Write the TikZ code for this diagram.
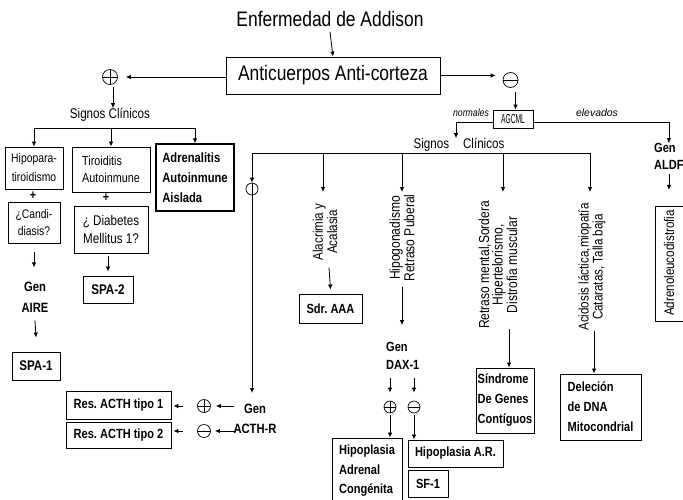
\documentclass[tikz,border=0pt]{standalone}
\usepackage{fontspec}
\setmainfont[FakeStretch=0.83]{Liberation Sans}
\usepackage{graphicx}
\usetikzlibrary{arrows.meta,calc}
\newcommand\fsz[2]{\fontsize{#1}{#2}\selectfont}
\frenchspacing
\begin{document}
\begin{tikzpicture}[x=1pt,y=-1pt,
  ln/.style={line width=0.8pt},
  arr/.style={line width=0.8pt,-{Latex[length=5pt,width=4.5pt]}},
  bx/.style={draw,line width=0.9pt,inner sep=0pt,align=center},
  lbx/.style={draw,line width=0.9pt,inner sep=0pt,align=left},
  txt/.style={inner sep=0pt,align=center},
  sym/.style={circle,draw,line width=0.7pt,minimum size=13pt,inner sep=0pt},
  plus/.style={sym,path picture={\draw[line width=0.7pt] (path picture bounding box.north)--(path picture bounding box.south) (path picture bounding box.west)--(path picture bounding box.east);}},
  minus/.style={sym,path picture={\draw[line width=0.7pt] (path picture bounding box.west)--(path picture bounding box.east);}},
  vminus/.style={sym,path picture={\draw[line width=0.7pt] (path picture bounding box.north)--(path picture bounding box.south);}},
  rot/.style={txt,rotate=90,font=\fsz{14}{12}},
]
\useasboundingbox (0,0) rectangle (683,499);
\clip (0,0) rectangle (683,499);
% ---------- top
\node[txt,font=\fsz{21}{24}] (title) at (330,19) {Enfermedad de Addison};
\node[bx,minimum width=214pt,minimum height=37pt,font=\fsz{21}{24}] (anti) at (333,75.5) {Anticuerpos Anti-corteza};
\node[plus,minimum size=15pt] (pA) at (110,77) {};
\node[minus,minimum size=15pt] (mA) at (510.5,80) {};
\draw[arr] ([yshift=-5pt]title.south) -- (anti.north);
\draw[arr] (anti.west |- pA) -- ($(pA.east)+(8,0)$);
\draw[arr] (anti.east) -- ($(anti.east -| mA.west)+(-7,0)$);
% ---------- left branch
\node[txt,font=\fsz{14}{16}] (sigL) at (110,115) {Signos Clínicos};
\draw[arr] ($(pA.south)+(3,2)$) -- ($(sigL.north)+(3,0)$);
\node[bx,minimum width=58pt,minimum height=42pt,font=\fsz{12.5}{19}] (hipo) at (34,168) {Hipopara-\\tiroidismo};
\node[txt,font=\bfseries\fsz{13}{14}] (plus1) at (33,196) {+};
\node[bx,minimum width=52pt,minimum height=41pt,font=\fsz{12.5}{17}] (candi) at (34,222.5) {¿Candi-\\diasis?};
\node[txt,font=\bfseries\fsz{13.5}{21}] (gaire) at (35,297) {Gen\\AIRE};
\node[bx,minimum width=48pt,minimum height=28pt,font=\bfseries\fsz{14}{16}] (spa1) at (36,366) {SPA-1};
\node[lbx,minimum width=78pt,minimum height=45pt,font=\fsz{13}{17.5}] (tiro) at (111,169.5) {Tiroiditis\\Autoinmune};
\node[txt,font=\bfseries\fsz{13}{14}] (plus2) at (106,198) {+};
\node[bx,minimum width=74pt,minimum height=47pt,font=\fsz{14}{18}] (diab) at (111,229.5) {¿ Diabetes\\Mellitus 1?};
\node[bx,minimum width=50pt,minimum height=27pt,font=\bfseries\fsz{14}{16}] (spa2) at (108,289.5) {SPA-2};
\node[lbx,line width=1.4pt,minimum width=78pt,minimum height=67pt,font=\bfseries\fsz{13.5}{20}] (adren) at (195,177.5) {Adrenalitis\\Autoinmune\\Aislada};
\coordinate (lrow) at (0,128);
\draw[ln] (hipo.north |- lrow) -- (adren.north |- lrow);
\draw[arr] (hipo.north |- lrow) -- (hipo.north);
\draw[arr] (tiro.north |- lrow) -- (tiro.north);
\draw[arr] (adren.north |- lrow) -- (adren.north);
\draw[arr] ($(candi.south)+(0,9)$) -- ($(candi.south)+(0,24)$);
\draw[arr] ($(gaire.south)+(0,8)$) -- ($(spa1.north)+(0,-14)$);
\draw[arr] ($(spa2.north |- diab.south)+(0,3)$) -- ($(spa2.north)+(0,-4)$);
% ---------- right branch
\node[bx,minimum width=40pt,minimum height=18pt,font=\fsz{13}{14}] (agc) at (513,119) {\scalebox{0.62}[1]{AGCML}};
\coordinate (mAs) at ($(mA.south)+(5,4)$);
\draw[arr] (mAs) -- (mAs |- agc.north);
\node[txt,font=\itshape\fsz{10.5}{12}] (norm) at (471,113) {normales};
\node[txt,font=\itshape\fsz{10.5}{12}] (elev) at (597,113) {\scalebox{1.2}[1]{elevados}};
\node[txt,font=\fsz{14}{16}] (sigR) at (459,145) {Signos\hspace{14pt}Clínicos};
\draw[arr] ($(agc.west)+(0,3)$) -| ($(sigR.north)+(-3,0)$);
\node[txt,align=left,anchor=west,font=\bfseries\fsz{13.3}{17}] (gald) at (654,156.5) {Gen\\ALDF};
\draw[arr] ($(agc.east)+(0,3)$) -| (gald.north);
\node[draw,line width=0.9pt,minimum width=45pt,minimum height=115pt,inner sep=0pt] (aleuco) at (677.5,263.5) {};
\node[rot,font=\fsz{14}{12}] (aleucoT) at (669,263) {Adrenoleucodistrofia};
\draw[arr] ($(gald.south)+(0,4)$) -- ($(gald.south)+(0,20)$);
% second-level signs
\coordinate (rowR) at (0,153);
\coordinate (tipR) at (0,192);
\coordinate (br2) at (323,153);
\coordinate (br3) at (402,153);
\coordinate (br4) at (503,153);
\coordinate (br5) at (590,153);
\node[vminus,minimum size=12pt] (vm) at (252,189) {};
\draw[ln] (vm |- rowR) -- (br5);
\draw[arr] (vm |- rowR) -- (vm.north);
\draw[arr] (br2) -- (br2 |- tipR);
\draw[arr] (br3) -- (br3 |- tipR);
\draw[arr] (br4) -- (br4 |- tipR);
\draw[arr] (br5) -- (br5 |- tipR);
\node[rot] (alac) at (325,232) {Alacrimia y\\Acalasia};
\node[rot,font=\fsz{14.5}{12.5}] (hipog) at (402,238) {Hipogonadismo\\Retraso Puberal};
\node[rot,font=\fsz{14.5}{11.5}] (retr) at (498,265) {Retraso mental,Sordera\\Hipertelorismo,\\Distrofia muscular};
\node[rot] (acid) at (592,267) {Acidosis láctica,miopatía\\Cataratas, Talla baja};
% Sdr AAA
\node[bx,minimum width=63pt,minimum height=29pt,font=\bfseries\fsz{13.3}{16}] (sdr) at (330.5,308.5) {Sdr. AAA};
\draw[arr] ($(alac.west)+(4,7)$) -- ($(sdr.north)+(0,-4)$);
% ACTH-R
\node[txt,font=\bfseries\fsz{13.5}{20}] (gacth) at (255,419) {Gen\\ACTH-R};
\draw[arr] (vm.south) -- ($(vm.south |- gacth.north)+(0,-11)$);
\node[plus] (p2) at (204,406) {};
\node[minus] (m2) at (204,431) {};
\node[bx,minimum width=105pt,minimum height=28pt,font=\bfseries\fsz{13.3}{16}] (res1) at (118.5,405) {Res. ACTH tipo 1};
\node[bx,minimum width=105pt,minimum height=26pt,font=\bfseries\fsz{13.3}{16}] (res2) at (118.5,435) {Res. ACTH tipo 2};
\draw[arr] ($(p2.east)+(23,0)$) -- ($(p2.east)+(5,0)$);
\draw[arr] ($(m2.east)+(25,0)$) -- ($(m2.east)+(4,0)$);
\draw[arr] ($(p2.west)+(-14,0)$) -- ($(res1.east |- p2)+(2,0)$);
\draw[arr] ($(m2.west)+(-14,0)$) -- ($(res2.east |- m2)+(2,0)$);
% DAX-1
\node[txt,align=left,anchor=west,font=\bfseries\fsz{13.3}{18}] (gdax) at (386,356) {Gen\\DAX-1};
\draw[arr] ($(hipog.west)+(0,5)$) -- ($(hipog.west |- gdax.north)+(0,-17)$);
\node[plus,minimum size=12pt] (p3) at (390,407) {};
\node[minus,minimum size=12pt] (m3) at (414,407) {};
\draw[arr] ($(p3.north)+(0,-23)$) -- ($(p3.north)+(0,-8)$);
\draw[arr] ($(m3.north)+(0,-23)$) -- ($(m3.north)+(0,-8)$);
\node[lbx,minimum width=70pt,minimum height=66pt,font=\bfseries\fsz{13.3}{19.5}] (hac) at (367,471) {Hipoplasia\\Adrenal\\Congénita};
\node[bx,minimum width=95pt,minimum height=27pt,font=\bfseries\fsz{13.3}{16}] (har) at (455.5,453.5) {Hipoplasia A.R.};
\node[bx,minimum width=40pt,minimum height=27pt,font=\bfseries\fsz{13.3}{16}] (sf1) at (428,483.5) {SF-1};
\draw[arr] ($(p3.south)+(0,2)$) -- (p3.south |- hac.north);
\draw[arr] ($(m3.south)+(0,2)$) -- (m3.south |- har.north);
% Sindrome, Delecion
\node[lbx,minimum width=58pt,minimum height=65pt,font=\bfseries\fsz{13.3}{20}] (sind) at (505,400.5) {Síndrome\\De Genes\\Contíguos};
\coordinate (rs) at ($(retr.west)+(11,0)$);
\draw[arr] (rs) -- (rs |- sind.north);
\node[lbx,minimum width=81pt,minimum height=66pt,font=\bfseries\fsz{13.3}{20}] (del) at (600.5,407) {Deleción\\de DNA\\Mitocondrial};
\coordinate (as) at ($(acid.west)+(2,0)$);
\draw[arr] (as) -- (as |- del.north);
\end{tikzpicture}
\end{document}
